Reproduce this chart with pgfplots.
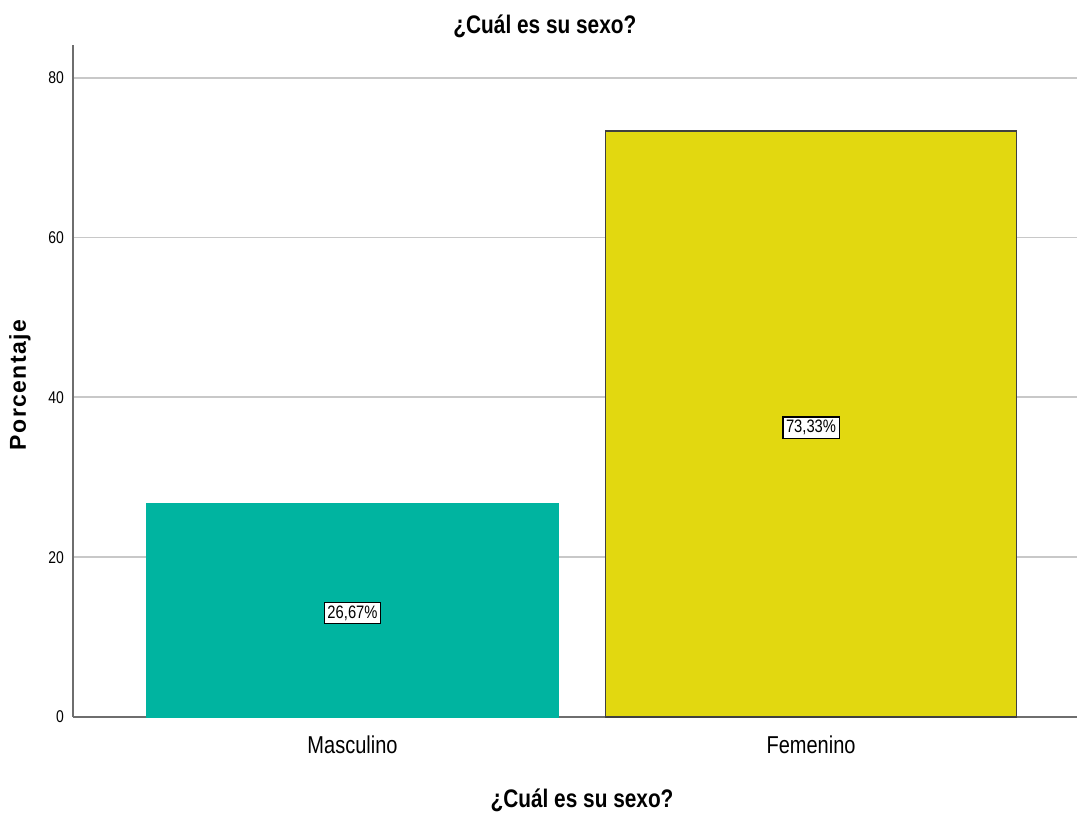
\documentclass[border=0pt]{standalone}
\usepackage{pgfplots}
\pgfplotsset{compat=1.18}
\usepackage{fontspec}
\setmainfont{Liberation Sans}
\newfontfamily\narrow{Liberation Sans}[FakeStretch=0.82]
\newfontfamily\wide{Liberation Sans}[LetterSpace=6]
\definecolor{barteal}{RGB}{0,180,160}
\definecolor{baryellow}{RGB}{226,216,16}
\definecolor{gridgray}{RGB}{200,200,200}
\definecolor{axgray}{RGB}{110,110,110}
\begin{document}
\begin{tikzpicture}
\begin{axis}[
  at={(0,0)}, anchor=south west,
  scale only axis,
  width=502pt, height=336pt,
  axis lines*=left,
  axis line style={draw=axgray, line width=0.7pt},
  xmin=-0.6096, xmax=1.580,
  ymin=0, ymax=84.1,
  ytick={0,20,40,60,80},
  ymajorgrids,
  grid style={draw=gridgray, line width=0.9pt},
  major tick length=0pt,
  xtick={0,1},
  xticklabels={Masculino,Femenino},
  /pgf/number format/assume math mode=true,
  yticklabel style={font=\narrow\fontsize{8.5}{10}\selectfont, xshift=-1pt},
  xticklabel style={font=\narrow\fontsize{12.2}{14}\selectfont, yshift=-6pt},
  title={¿Cuál es su sexo?},
  title style={font=\narrow\bfseries\fontsize{12.7}{14}\selectfont, at={(0.470,1)}, anchor=center, yshift=3.5pt},
  xlabel={¿Cuál es su sexo?},
  xlabel style={font=\narrow\bfseries\fontsize{12.7}{14}\selectfont, at={(0.507,0)}, anchor=center, yshift=-41.5pt},
  ylabel={Porcentaje},
  ylabel style={font=\wide\bfseries\fontsize{11.5}{13}\selectfont, at={(0,0.494)}, anchor=center, yshift=26.5pt},
  bar width=0.8964,
  clip=false,
]
\addplot[ybar, fill=barteal, draw=barteal, line width=0.6pt] coordinates {(0,26.67)};
\addplot[ybar, fill=baryellow, draw=black!75, line width=0.8pt] coordinates {(1,73.33)};
\addplot[draw=none, mark=none, point meta=explicit symbolic,
  nodes near coords,
  nodes near coords align={center},
  every node near coord/.append style={font=\narrow\fontsize{9}{10}\selectfont, fill=white, draw=black, line width=0.7pt, inner sep=1.6pt, anchor=center}]
  coordinates {(0,13.0) [26,67\%] (1,36.2) [73,33\%]};
\end{axis}
\pgfresetboundingbox
\path[use as bounding box] (-36.5pt,-49pt) rectangle (502pt,358.5pt);
\end{tikzpicture}
\end{document}
